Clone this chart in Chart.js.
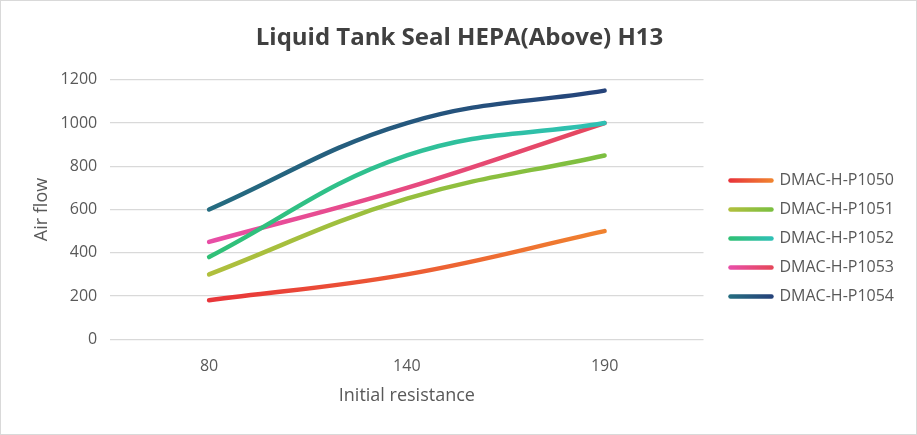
<!DOCTYPE html>
<html>
<head>
<meta charset="utf-8">
<script src="https://cdn.jsdelivr.net/npm/chart.js@4"></script>
<style>
  html, body { margin: 0; padding: 0; background: #fff; }
  #wrap { width: 917px; height: 435px; box-sizing: border-box; border: 1px solid #d9d9d9; }
</style>
</head>
<body>
<div id="wrap"><canvas id="chart" width="915" height="433"></canvas></div>
<script>
// chart data
const categories = ['80', '140', '190'];
const seriesNames = ['DMAC-H-P1050', 'DMAC-H-P1051', 'DMAC-H-P1052', 'DMAC-H-P1053', 'DMAC-H-P1054'];
const p1050 = [180, 300, 500];
const p1051 = [300, 650, 850];
const p1052 = [380, 850, 1000];
const p1053 = [450, 700, 1000];
const p1054 = [600, 1000, 1150];
const yTicks = [0, 200, 400, 600, 800, 1000, 1200];

// gradient colours, left -> right
const gradients = [
    ['#e8353a', '#f0822f'],
    ['#b0bf3d', '#7cbf40'],
    ['#30c076', '#2fc0b4'],
    ['#e84ea6', '#e5475c'],
    ['#256c80', '#25437a']
];
const allValues = [p1050, p1051, p1052, p1053, p1054];

const textColor = '#595959';
const fontFamily = '"Open Sans", sans-serif';
const legendGap = 14;   // space between plot area and legend
const legendPad = 13;

function lineGradient(ctx, i) {
    const chart = ctx.chart;
    if (!chart.chartArea) return gradients[i][0];
    const x = chart.scales.x;
    const g = chart.ctx.createLinearGradient(x.getPixelForValue(0), 0, x.getPixelForValue(categories.length - 1), 0);
    g.addColorStop(0, gradients[i][0]);
    g.addColorStop(1, gradients[i][1]);
    return g;
}

const datasets = allValues.map((vals, i) => ({
    label: seriesNames[i],
    data: vals,
    borderColor: ctx => lineGradient(ctx, i),
    backgroundColor: gradients[i][1],
    borderWidth: 4.5,
    borderCapStyle: 'round',
    borderJoinStyle: 'round',
    pointRadius: 0,
    pointHoverRadius: 0,
    tension: 0.4,
    fill: false
}));

const ctx = document.getElementById('chart').getContext('2d');
const chart = new Chart(ctx, {
    type: 'line',
    data: { labels: categories, datasets: datasets },
    options: {
        responsive: false,
        animation: false,
        events: [],
        layout: { padding: { top: 0, right: 12, bottom: 23, left: 14 } },
        plugins: {
            title: {
                display: true,
                text: 'Liquid Tank Seal HEPA(Above) H13',
                color: '#404040',
                font: { family: fontFamily, size: 24, weight: 'bold' },
                padding: { top: 23, bottom: 27 }
            },
            legend: {
                position: 'right',
                title: { display: true, text: '', font: { size: 1 }, padding: { top: 64, bottom: 0 } },
                labels: {
                    usePointStyle: true,
                    pointStyleWidth: 41,
                    padding: legendPad,
                    color: textColor,
                    font: { family: fontFamily, size: 16 },
                    generateLabels: function(chart) {
                        const legend = chart.legend;
                        const x0 = legend && legend.left ? legend.left + legendGap + legendPad : 731;
                        return chart.data.datasets.map((ds, i) => {
                            const g = chart.ctx.createLinearGradient(x0, 0, x0 + 41, 0);
                            g.addColorStop(0, gradients[i][0]);
                            g.addColorStop(1, gradients[i][1]);
                            return {
                                text: ds.label,
                                strokeStyle: g,
                                fillStyle: g,
                                lineWidth: 4.5,
                                lineCap: 'round',
                                pointStyle: 'line',
                                fontColor: textColor,
                                datasetIndex: i
                            };
                        });
                    }
                }
            },
            tooltip: { enabled: false }
        },
        scales: {
            x: {
                offset: true,
                grid: { display: true, drawOnChartArea: false, drawTicks: true, tickLength: 10, tickColor: 'transparent' },
                border: { display: false },
                ticks: { color: textColor, font: { family: fontFamily, size: 16 }, padding: 8 },
                title: {
                    display: true,
                    text: 'Initial resistance',
                    color: textColor,
                    font: { family: fontFamily, size: 18 },
                    padding: { top: 1, bottom: 4 }
                }
            },
            y: {
                min: 0,
                max: 1200,
                afterBuildTicks: s => { s.ticks = yTicks.map(v => ({ value: v })); },
                grid: { color: '#d9d9d9', lineWidth: 1.3, drawTicks: true, tickLength: 10, tickColor: 'transparent' },
                border: { display: false },
                ticks: { color: textColor, font: { family: fontFamily, size: 16 }, padding: 3, callback: v => String(v) },
                title: {
                    display: true,
                    text: 'Air flow',
                    color: textColor,
                    font: { family: fontFamily, size: 18 },
                    padding: { top: 16, bottom: 5 }
                }
            }
        }
    }
});

// widen the legend box on its left so the plot stops short of the legend lines
const legend = chart.legend;
const origFit = legend.fit;
legend.fit = function() {
    origFit.call(this);
    this.width += legendGap;
};
const origDraw = legend._draw;
legend._draw = function() {
    this.left += legendGap;
    origDraw.call(this);
    this.left -= legendGap;
};
chart.update();
</script>
</body>
</html>
